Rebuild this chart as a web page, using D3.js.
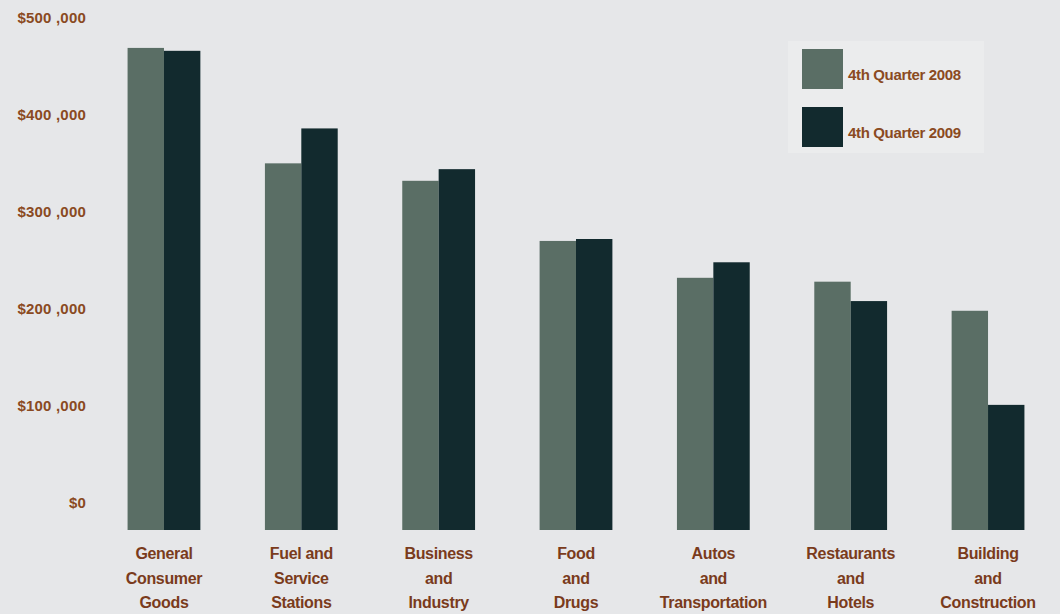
<!DOCTYPE html>
<html><head><meta charset="utf-8">
<script src="https://cdn.jsdelivr.net/npm/d3@7"></script>
<style>
html,body{margin:0;padding:0;background:#e6e7e9;}
svg{display:block;}
</style></head>
<body><svg id="c" width="1060" height="614"></svg>
<script>
const categories = [
  ["General","Consumer","Goods"],
  ["Fuel and","Service","Stations"],
  ["Business","and","Industry"],
  ["Food","and","Drugs"],
  ["Autos","and","Transportation"],
  ["Restaurants","and","Hotels"],
  ["Building","and","Construction"]
];
const seriesNames = ["4th Quarter 2008","4th Quarter 2009"];
const q4_2008 = [497000, 378000, 360000, 298000, 260000, 256000, 226000];
const q4_2009 = [494000, 414000, 372000, 300000, 276000, 236000, 129000];
const yTicks = [0, 100000, 200000, 300000, 400000, 500000];
const colors = ["#5a6e65", "#122a2e"];

const svg = d3.select("#c");
const txt = "#8a4a22";
const font = "'Liberation Sans Narrow','Arial Narrow','Liberation Sans',Arial,sans-serif";

const catKeys = categories.map(c => c.join(" "));
const x = d3.scaleBand().domain(catKeys).range([95.3, 1056.7]).paddingInner(0.47).paddingOuter(0.235);
const xs = d3.scaleBand().domain(seriesNames).range([0, x.bandwidth()]);
const y = d3.scaleLinear().domain([0, 500000]).range([530, 45]);

// y axis labels
const yAxis = d3.axisLeft(y).tickValues(yTicks).tickSize(0).tickPadding(0)
  .tickFormat(d => d === 0 ? "$0" : "$" + d3.format(",")(d).replace(",", " ,"));
const ga = svg.append("g").attr("transform", "translate(86,-27)").call(yAxis);
ga.select(".domain").remove();
ga.selectAll("text").attr("font-family", "'Liberation Sans',Arial,sans-serif")
  .attr("font-weight", "bold").attr("font-size", 15).attr("fill", txt)
  .attr("letter-spacing", "0.2");

// bars
const data = catKeys.map((k, i) => ({k, vals: [q4_2008[i], q4_2009[i]]}));
const groups = svg.append("g").selectAll("g").data(data).join("g")
  .attr("transform", d => `translate(${x(d.k)},0)`);
groups.selectAll("rect").data(d => d.vals.map((v, j) => ({s: seriesNames[j], v, j})))
  .join("rect")
  .attr("x", d => xs(d.s)).attr("width", xs.bandwidth())
  .attr("y", d => y(d.v)).attr("height", d => y(0) - y(d.v))
  .attr("fill", d => colors[d.j]);

// x category labels
const xAxis = d3.axisBottom(x).tickSize(0).tickFormat("");
const gx = svg.append("g").attr("transform", "translate(0,530)").call(xAxis);
gx.select(".domain").remove();
gx.selectAll(".tick").each(function(d, i) {
  const t = d3.select(this).append("text")
    .attr("text-anchor", "middle").attr("font-family", font)
    .attr("font-weight", "bold").attr("font-size", 16).attr("fill", "#7a3b1c")
    .attr("letter-spacing", "-0.35");
  categories[i].forEach((line, li) => {
    t.append("tspan").attr("x", 0).attr("y", 29 + li * 24.5).text(line);
  });
});

// legend
const lg = svg.append("g").attr("transform", "translate(802,49)");
lg.append("rect").attr("x", -14).attr("y", -8).attr("width", 196).attr("height", 112).attr("fill", "#ebeced");
seriesNames.forEach((s, i) => {
  const g = lg.append("g").attr("transform", `translate(0,${i * 58})`);
  g.append("rect").attr("width", 41).attr("height", 40).attr("fill", colors[i]);
  g.append("text").attr("x", 46).attr("y", 31).text(s)
    .attr("font-family", "'Liberation Sans',Arial,sans-serif").attr("font-weight", "bold")
    .attr("font-size", 15).attr("fill", txt).attr("letter-spacing", "-0.35");
});
</script></body></html>
